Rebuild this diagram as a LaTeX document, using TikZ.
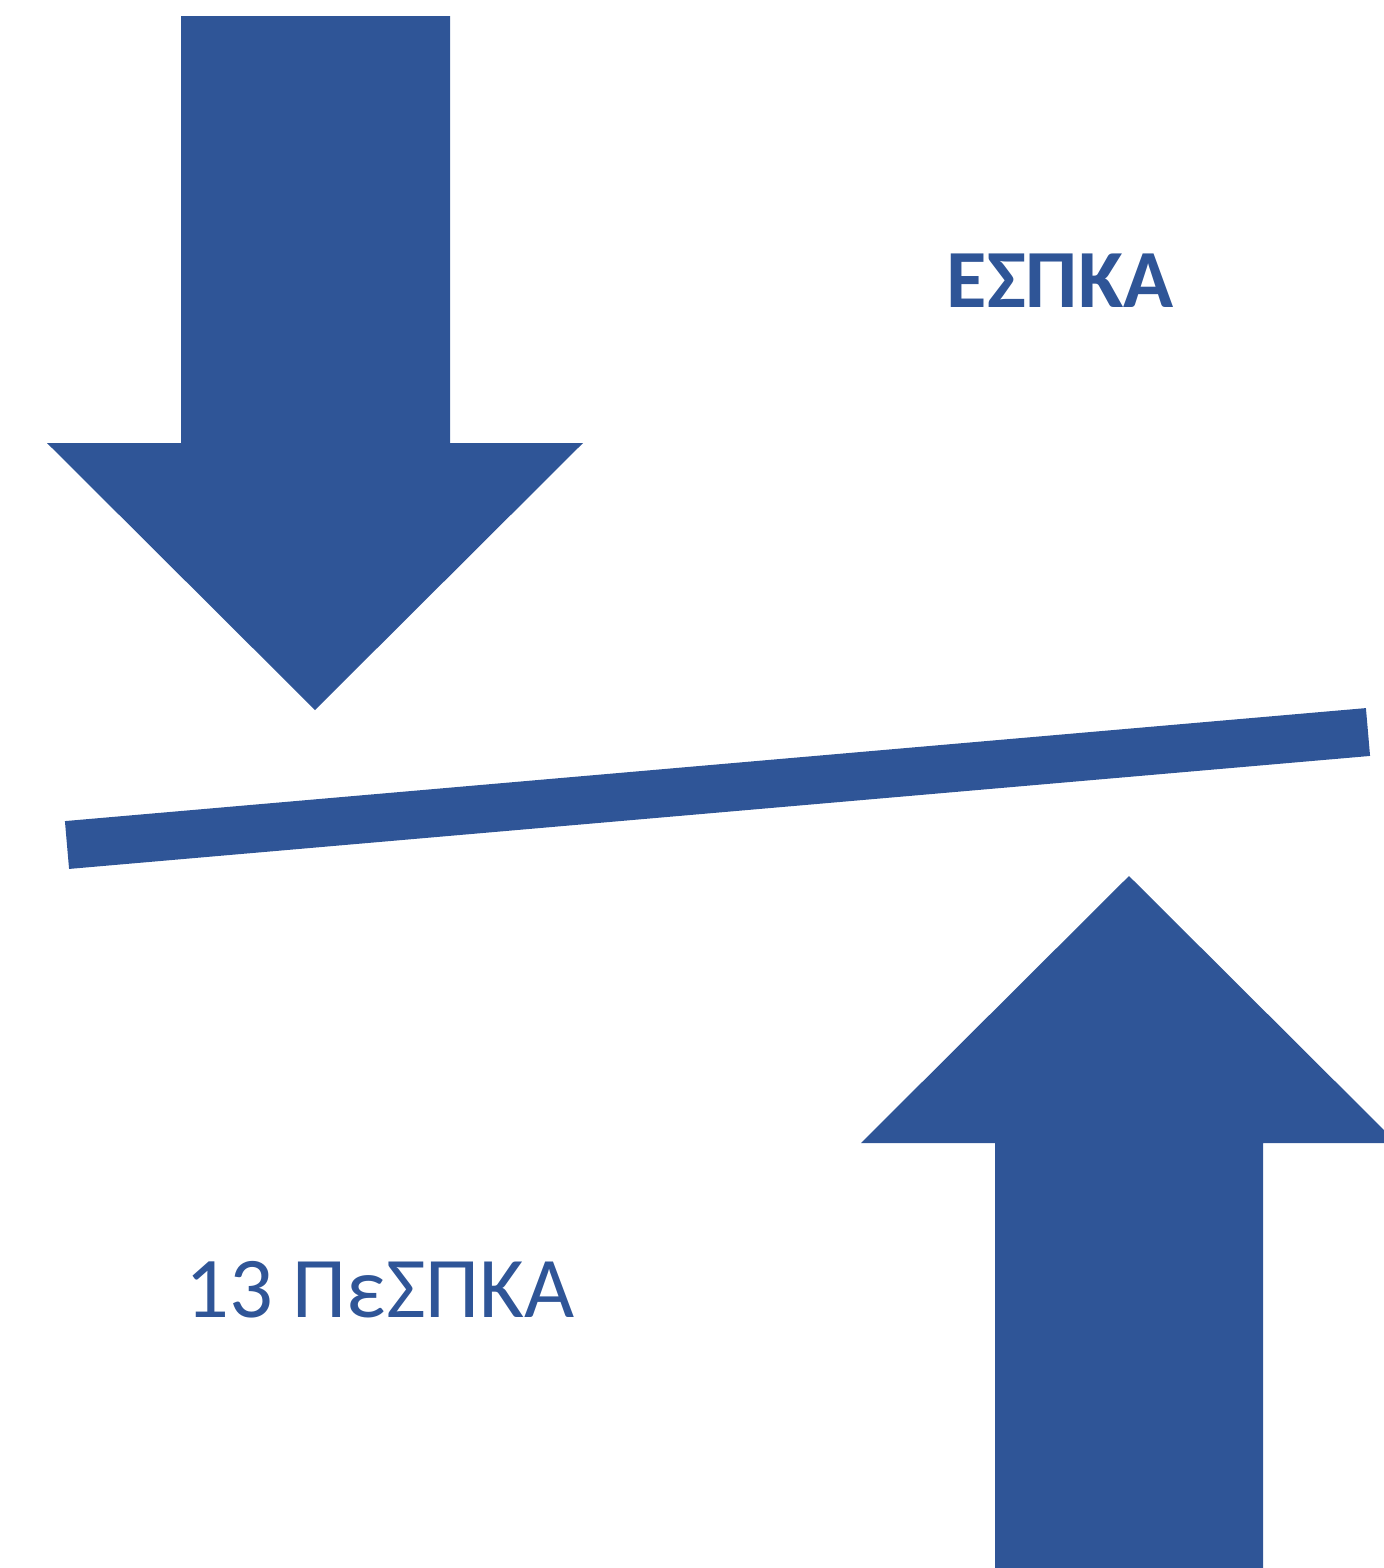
\documentclass[tikz,border=0pt]{standalone}
\usepackage{fontspec}
\setmainfont{Carlito}
\definecolor{arrowblue}{HTML}{2F5597}

\begin{document}
\begin{tikzpicture}[x=0.01cm,y=-0.01cm,
  blk/.style={fill=arrowblue,draw=none},
  lbl/.style={text=arrowblue,inner sep=0pt}]
  \useasboundingbox (0,0) rectangle (1384,1568);
  \path[clip] (0,0) rectangle (1384,1568);

  % arrow pointing down
  \fill[blk] (181,16) -- (450,16) -- (450,443) -- (583,443) -- (315,710)
    -- (47,443) -- (181,443) -- cycle;

  % tilted bar
  \coordinate (barL) at (67,845);
  \coordinate (barR) at (1368,732);
  \draw[arrowblue,line width=0.48cm] (barL) -- (barR);

  % arrow pointing up
  \fill[blk] (995,1568) -- (1263,1568) -- (1263,1143) -- (1397,1143) -- (1129,876)
    -- (861,1143) -- (995,1143) -- cycle;

  \node[lbl,font=\bfseries\fontsize{23.5}{28}\selectfont] (top) at (1060,281) {ΕΣΠΚΑ};
  \node[lbl,font=\fontsize{24.6}{30}\selectfont] (bottom) at (380,1290) {13 ΠεΣΠΚΑ};
\end{tikzpicture}
\end{document}
